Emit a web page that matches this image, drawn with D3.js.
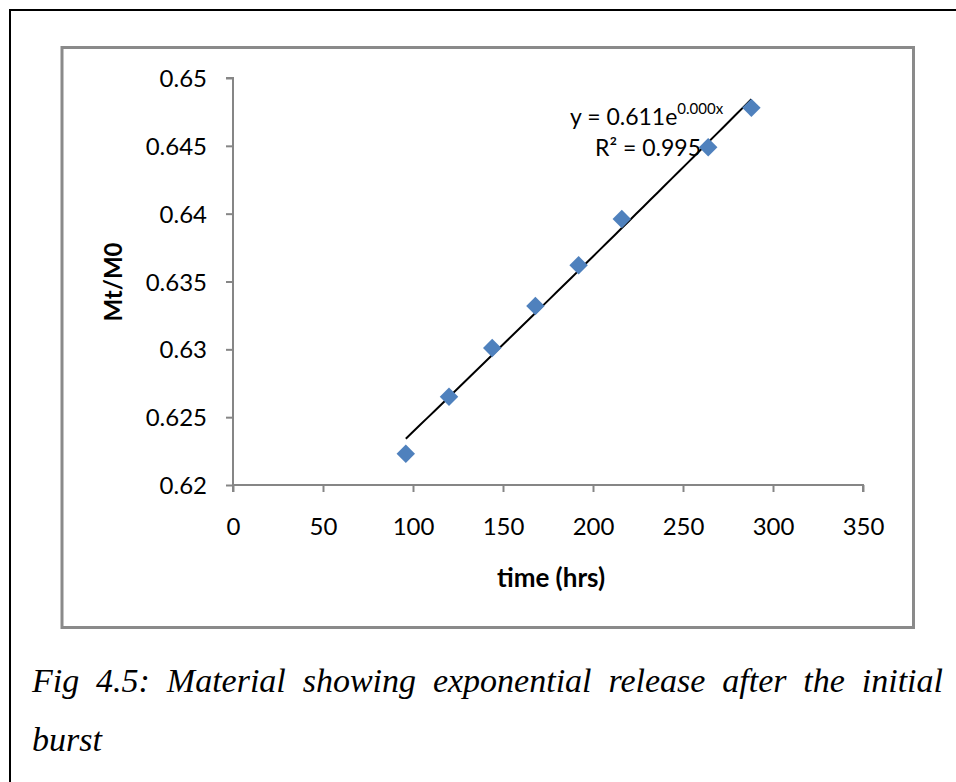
<!DOCTYPE html>
<html>
<head>
<meta charset="utf-8">
<script src="https://cdn.jsdelivr.net/npm/d3@7"></script>
<style>
  body { margin: 0; background: #fff; }
  .tick text { font-family: Lato, "Open Sans", sans-serif; font-size: 24px; fill: #000; }
  .axis path, .axis line { stroke: #868686; stroke-width: 2px; }
</style>
</head>
<body>
<svg id="chart" width="956" height="782"></svg>
<script>
// data
var times = [96, 120, 144, 168, 192, 216, 264, 288];          // hrs
var ratios = [0.6223, 0.6265, 0.6301, 0.6332, 0.6362, 0.6396, 0.6449, 0.6478]; // Mt/M0
var xTicks = [0, 50, 100, 150, 200, 250, 300, 350];
var yTicks = [0.62, 0.625, 0.63, 0.635, 0.64, 0.645, 0.65];
var eqText = "y = 0.611e";
var eqExp = "0.000x";
var r2Text = "R\u00b2 = 0.995";
var captionLines = ["Fig 4.5: Material showing exponential release after the initial", "burst"];

var svg = d3.select("#chart");

// page frame (top and left rule)
svg.append("line").attr("x1", 10).attr("y1", 10).attr("x2", 956).attr("y2", 10)
    .attr("stroke", "#000").attr("stroke-width", 2);
svg.append("line").attr("x1", 10).attr("y1", 9).attr("x2", 10).attr("y2", 782)
    .attr("stroke", "#000").attr("stroke-width", 2);

// chart box
svg.append("rect").attr("x", 62).attr("y", 47.5).attr("width", 851.5).attr("height", 580)
    .attr("fill", "#fff").attr("stroke", "#8a8a8a").attr("stroke-width", 3);

// scales
var x = d3.scaleLinear().domain([0, 350]).range([233, 863]);
var y = d3.scaleLinear().domain([0.62, 0.65]).range([485, 78]);

var xAxis = d3.axisBottom(x).tickValues(xTicks).tickSize(7).tickPadding(15);
var yAxis = d3.axisLeft(y).tickValues(yTicks).tickSize(7).tickPadding(19)
    .tickFormat(function (d) { return String(+d.toFixed(3)); });

svg.append("g").attr("class", "axis")
    .attr("transform", "translate(0," + y(0.62) + ")")
    .call(xAxis)
    .call(function (g) { g.select(".domain").attr("d", "M" + x(0) + ",0H" + x(350) + "V7M" + x(0) + ",0V7"); })
    .selectAll("text").attr("dy", "1.15em");

svg.append("g").attr("class", "axis")
    .attr("transform", "translate(" + x(0) + ",0)")
    .call(yAxis)
    .call(function (g) { g.select(".domain").attr("d", "M-7," + y(0.65) + "H0V" + y(0.62)); })
    .selectAll("text").attr("dy", "0.36em");

// exponential trendline, least squares on ln(y)
var lx = d3.mean(times);
var ly = d3.mean(ratios, function (v) { return Math.log(v); });
var sxy = 0, sxx = 0;
times.forEach(function (t, i) {
    sxy += (t - lx) * (Math.log(ratios[i]) - ly);
    sxx += (t - lx) * (t - lx);
});
var b = sxy / sxx, a = Math.exp(ly - b * lx);
var tExt = d3.extent(times);
var trend = d3.range(tExt[0], tExt[1] + 1, 4).map(function (t) { return [t, a * Math.exp(b * t)]; });

svg.append("path")
    .datum(trend)
    .attr("fill", "none")
    .attr("stroke", "#000")
    .attr("stroke-width", 2)
    .attr("d", d3.line().x(function (d) { return x(d[0]); }).y(function (d) { return y(d[1]); }));

// diamond markers
var diamond = d3.symbol().type(d3.symbolSquare).size(170);
svg.selectAll(".pt")
    .data(times)
    .enter().append("path")
    .attr("class", "pt")
    .attr("d", diamond)
    .attr("fill", "#4f81bd")
    .attr("transform", function (d, i) { return "translate(" + x(d) + "," + y(ratios[i]) + ") rotate(45)"; });

// equation labels
var eq = svg.append("text")
    .attr("x", 570).attr("y", 125)
    .style("font-family", "Lato, sans-serif").style("font-size", "23px");
eq.append("tspan").text(eqText);
eq.append("tspan").attr("dy", -11).style("font-size", "15px").text(eqExp);

svg.append("text")
    .attr("x", 595).attr("y", 156)
    .style("font-family", "Lato, sans-serif").style("font-size", "23px")
    .text(r2Text);

// axis titles
svg.append("text")
    .attr("transform", "translate(122,282) rotate(-90)")
    .attr("text-anchor", "middle")
    .style("font-family", "Lato, sans-serif").style("font-size", "24px").style("font-weight", "bold")
    .text("Mt/M0");

svg.append("text")
    .attr("x", 551).attr("y", 587)
    .attr("text-anchor", "middle")
    .style("font-family", "Lato, sans-serif").style("font-size", "26px").style("font-weight", "bold")
    .text("time (hrs)");

// caption, first line justified
var cap = svg.append("g")
    .style("font-family", "'Liberation Serif', 'Times New Roman', serif")
    .style("font-style", "italic").style("font-size", "34px");

var l1 = cap.append("text").attr("x", 32).attr("y", 692).text(captionLines[0]);
var gaps = captionLines[0].split(" ").length - 1;
var extra = (943 - 32 - l1.node().getComputedTextLength()) / gaps;
l1.attr("word-spacing", extra);

cap.append("text").attr("x", 32).attr("y", 751).text(captionLines[1]);
</script>
</body>
</html>
